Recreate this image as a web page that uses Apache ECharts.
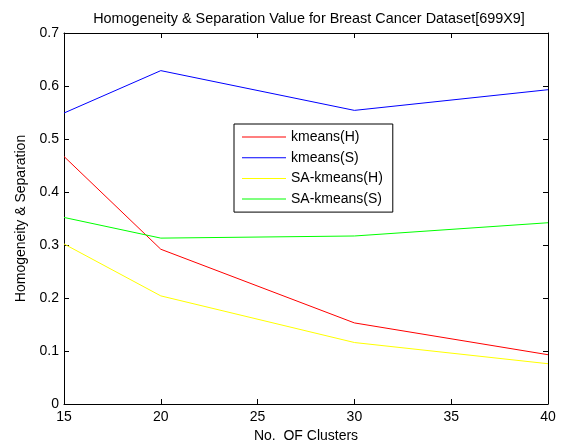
<!DOCTYPE html>
<html>
<head>
<meta charset="utf-8">
<script src="https://cdn.jsdelivr.net/npm/echarts@6/dist/echarts.min.js"></script>
<style>
  html, body { margin: 0; padding: 0; background: #fff; }
  #chart { width: 563px; height: 448px; }
</style>
</head>
<body>
<div id="chart"></div>
<script>
// data
const clusters = [15, 20, 30, 40]
const kmeansH = [0.467, 0.292, 0.153, 0.093]
const kmeansS = [0.549, 0.629, 0.554, 0.593]
const saKmeansH = [0.302, 0.204, 0.116, 0.076]
const saKmeansS = [0.352, 0.313, 0.317, 0.342]
const seriesNames = ['kmeans(H)', 'kmeans(S)', 'SA-kmeans(H)', 'SA-kmeans(S)']
const seriesColors = ['#ff0000', '#0000ff', '#ffff00', '#00ff00']

const font = 'Liberation Sans, Arial, sans-serif'

function pairs (ys) {
  return clusters.map((x, i) => [x, ys[i]])
}

let myChart = echarts.init(document.getElementById('chart'))

const tickStyle = { show: true, inside: true, length: 5, lineStyle: { color: '#000' } }
const axisLine = { show: true, onZero: false, lineStyle: { color: '#000', width: 1 } }

myChart.setOption({
  backgroundColor: '#fff',
  animation: false,
  title: {
    text: 'Homogeneity & Separation Value for Breast Cancer Dataset[699X9]',
    left: 304,
    top: 7,
    textAlign: 'center',
    textStyle: { fontFamily: font, fontSize: 14.4, fontWeight: 'normal', color: '#000' }
  },
  grid: { left: 64, right: 15, top: 33, bottom: 39 },
  legend: {
    orient: 'vertical',
    left: 234,
    top: 124,
    padding: [6, 10, 6, 8],
    itemGap: 6.7,
    itemWidth: 44,
    itemHeight: 1,
    icon: 'rect',
    borderColor: '#000',
    borderWidth: 1,
    backgroundColor: '#fff',
    textStyle: { fontFamily: font, fontSize: 14, color: '#000', lineHeight: 14 },
    data: seriesNames
  },
  xAxis: [{
    type: 'value',
    min: 15,
    max: 40,
    interval: 5,
    name: 'No.  OF Clusters',
    nameLocation: 'middle',
    nameGap: 25,
    nameTextStyle: { fontFamily: font, fontSize: 14, color: '#000' },
    axisLine: axisLine,
    axisTick: tickStyle,
    axisLabel: { fontFamily: font, fontSize: 14, color: '#000', margin: 6 },
    splitLine: { show: false }
  }, {
    type: 'value',
    position: 'top',
    min: 15,
    max: 40,
    interval: 5,
    axisLine: axisLine,
    axisTick: tickStyle,
    axisLabel: { show: false },
    splitLine: { show: false }
  }],
  yAxis: [{
    type: 'value',
    min: 0,
    max: 0.7,
    interval: 0.1,
    name: 'Homogeneity & Separation',
    nameLocation: 'middle',
    nameGap: 32,
    nameTextStyle: { fontFamily: font, fontSize: 14, color: '#000' },
    axisLine: axisLine,
    axisTick: tickStyle,
    axisLabel: { fontFamily: font, fontSize: 14, color: '#000', margin: 5 },
    splitLine: { show: false }
  }, {
    type: 'value',
    position: 'right',
    min: 0,
    max: 0.7,
    interval: 0.1,
    axisLine: axisLine,
    axisTick: tickStyle,
    axisLabel: { show: false },
    splitLine: { show: false }
  }],
  series: seriesNames.map((name, i) => ({
    name: name,
    type: 'line',
    symbol: 'none',
    color: seriesColors[i],
    lineStyle: { width: 1, color: seriesColors[i] },
    data: pairs([kmeansH, kmeansS, saKmeansH, saKmeansS][i])
  }))
})
</script>
</body>
</html>
